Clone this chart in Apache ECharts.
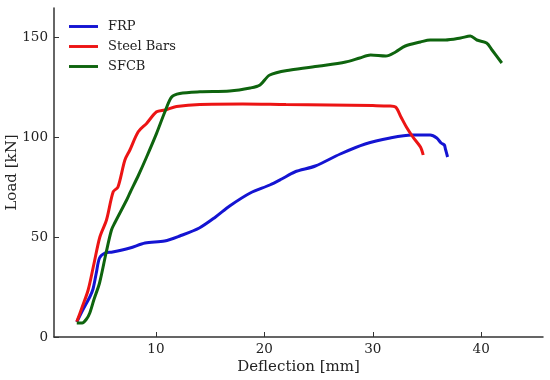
<!DOCTYPE html>
<html><head><meta charset="utf-8">
<script src="https://cdn.jsdelivr.net/npm/echarts@6/dist/echarts.min.js"></script>
<style>html,body{margin:0;padding:0;background:#fff}#c{width:550px;height:380px}</style>
</head><body><div id="c"></div>
<script>
const seriesNames = ['FRP', 'Steel Bars', 'SFCB'];
const frpX = [2.7, 3.3, 3.9, 4.2, 4.5, 4.8, 5.3, 6.0, 7.6, 9.0, 10.8, 12.2, 14.0, 15.5, 16.8, 18.7, 20.5, 21.6, 22.8, 24.7, 27.0, 29.3, 31.6, 33.6, 35.3, 35.9, 36.3, 36.6, 36.7, 36.9];
const frpY = [7.5, 14, 20, 24, 32, 39.5, 42, 42.5, 44.5, 47, 48, 50.5, 54.5, 60, 65.5, 72, 76, 79, 82.5, 85.5, 91.5, 96.5, 99.5, 101, 101, 99.5, 97, 96, 94, 90];
const steelX = [2.7, 3.2, 3.75, 4.3, 4.83, 5.44, 6.06, 6.5, 7.14, 7.6, 8.37, 9.14, 10.06, 10.83, 11.9, 14.06, 18.0, 22.0, 26.0, 30.0, 31.5, 32.1, 32.6, 33.1, 33.7, 34.4, 34.65];
const steelY = [7.6, 15, 23.5, 37, 50, 58.5, 72.6, 75, 88.5, 93.5, 102.6, 106.8, 112.6, 113.5, 115.2, 116.3, 116.5, 116.2, 116, 115.7, 115.5, 115, 110, 105, 100, 95, 91];
const sfcbX = [2.7, 3.2, 3.6, 3.9, 4.3, 4.8, 5.4, 5.9, 6.2, 7.3, 7.6, 8.4, 9.14, 10.06, 10.83, 11.45, 12.2, 14.06, 16.8, 18.7, 19.6, 20.5, 22.4, 25.1, 27.5, 28.8, 29.8, 31.2, 32.1, 33.0, 34.4, 35.3, 36.7, 38.1, 39.0, 39.6, 40.5, 41.0, 41.9];
const sfcbY = [7, 7, 9, 12, 19, 27, 42, 53.5, 57, 68.5, 72, 81, 90, 101.8, 112.6, 120, 121.8, 122.6, 123, 124.5, 126, 131, 133.5, 135.5, 137.5, 139.5, 141, 140.5, 142.5, 145.5, 147.5, 148.5, 148.5, 149.5, 150.5, 148.5, 147, 143.5, 137];
const xTicks = [10, 20, 30, 40];
const yTicks = [0, 50, 100, 150];
const colors = ['#1414d2', '#ec1414', '#0e640e'];

const zip = (xs, ys) => xs.map((x, i) => [x, ys[i]]);
const font = 'DejaVu Serif';
const chart = echarts.init(document.getElementById('c'), null, {renderer: 'canvas'});
chart.setOption({
  animation: false,
  color: colors,
  grid: {left: 54, right: 7, top: 8, bottom: 43, containLabel: false, outerBoundsMode: 'none'},
  legend: {
    left: 64, top: 15, orient: 'vertical', itemGap: 7,
    itemWidth: 29, itemHeight: 13, icon: 'path://M0,5L30,5L30,8L0,8Z',
    textStyle: {fontFamily: font, fontSize: 13, color: '#222', padding: [0, 0, 0, 5]},
    data: seriesNames
  },
  xAxis: {
    type: 'value', min: 0.6, max: 45.7, interval: 10,
    name: 'Deflection [mm]', nameLocation: 'middle', nameGap: 22.5, nameMoveOverlap: false,
    nameTextStyle: {fontFamily: font, fontSize: 15, color: '#222'},
    axisLine: {lineStyle: {color: '#333', width: 1.5}},
    axisTick: {inside: true, length: 5, lineStyle: {color: '#333'}, customValues: xTicks},
    axisLabel: {fontFamily: font, fontSize: 13.5, color: '#222', margin: 5, customValues: xTicks},
    splitLine: {show: false}
  },
  yAxis: {
    type: 'value', min: 0, max: 164.5, interval: 50,
    name: 'Load [kN]', nameLocation: 'middle', nameGap: 34, nameMoveOverlap: false,
    nameTextStyle: {fontFamily: font, fontSize: 15, color: '#222'},
    axisLine: {show: true, lineStyle: {color: '#333', width: 1.5}},
    axisTick: {show: true, inside: true, length: 5, lineStyle: {color: '#333'}, customValues: yTicks},
    axisLabel: {fontFamily: font, fontSize: 13.5, color: '#222', margin: 6, customValues: yTicks},
    splitLine: {show: false}
  },
  series: [
    {name: seriesNames[0], type: 'line', data: zip(frpX, frpY), showSymbol: false, smooth: 0.3, lineStyle: {width: 3}},
    {name: seriesNames[1], type: 'line', data: zip(steelX, steelY), showSymbol: false, smooth: 0.3, lineStyle: {width: 3}},
    {name: seriesNames[2], type: 'line', data: zip(sfcbX, sfcbY), showSymbol: false, smooth: 0.3, lineStyle: {width: 3}}
  ]
});
</script></body></html>
